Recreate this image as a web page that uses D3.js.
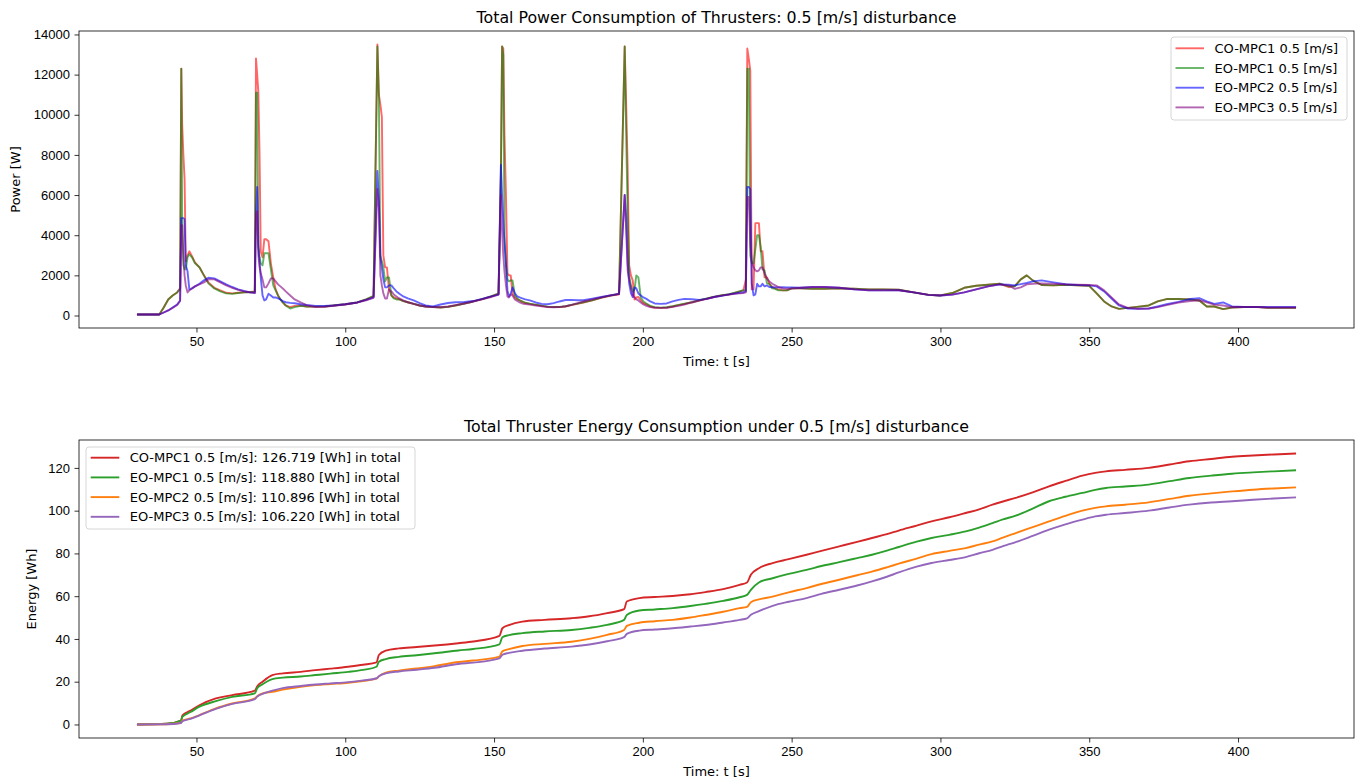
<!DOCTYPE html>
<html>
<head>
<meta charset="utf-8">
<script src="https://cdn.jsdelivr.net/npm/d3@7"></script>
<style>
  body { margin: 0; background: #fff; }
  svg { font-family: "DejaVu Sans", sans-serif; }
  .axis text { font-size: 13px; fill: #000; }
  .axis line { stroke: #000; stroke-width: 0.8; }
  .frame { fill: none; stroke: #000; stroke-width: 0.8; }
</style>
</head>
<body>
<svg width="1362" height="780"></svg>
<script>
// ---- data ----
var powerTime = [30, 37.5, 39, 40.5, 42, 43.5, 44.5,
  44.9, 45.2, 45.6, 46, 46.4, 47, 47.6, 48.5, 49.5, 51, 52.5, 54, 56, 58, 60, 62, 64, 66, 68, 69.6,
  70, 70.4, 70.8, 71.2, 71.6, 72.2, 72.8, 73.4, 74.2, 75, 75.8, 76.6, 77.4, 78.2, 79, 80, 81.5, 83, 85, 87, 90, 93, 96, 100, 104, 107, 109.5,
  110.8, 111.3, 111.8, 112.3, 112.8, 113.4, 114, 114.7, 115.5, 116.3, 117.2, 118.2, 119.5, 121, 123, 125, 127, 129.5, 132, 134.5, 137, 140, 143, 146, 149, 151.5,
  152.3, 152.7, 153.1, 153.5, 154, 154.5, 155, 155.6, 156.2, 157, 157.8, 158.6, 159.5, 160.5, 162, 164, 166, 168, 170, 172, 174, 176, 178, 180, 183, 186, 189, 192,
  193.9, 194.4, 194.9, 195.4, 196, 196.6, 197.2, 197.8, 198.5, 199.3, 200.2, 201.2, 202.5, 204, 206, 208, 210, 212, 214, 216.5, 219, 221.5, 224, 226.5, 229, 231.5, 233.8,
  234.6, 235.1, 235.6, 236.1, 236.6, 237.2, 237.8, 238.4, 239, 239.6, 240.2, 240.9, 241.7, 242.5, 243.5, 244.5, 245.5, 247, 248.5, 250,
  253, 257, 261, 266, 271, 276, 281, 286, 291, 296, 300, 304, 308, 312, 316, 320, 323, 325, 327, 329,
  331, 334, 338, 342, 346, 350, 352.5, 355, 357.5, 360, 363, 366, 370, 373, 376, 380, 384, 387, 389.5, 392,
  395, 398, 402, 406, 410, 415, 419.5];

var powerCO1 = [50, 50, 400, 800, 1000, 1150, 1350,
  12300, 9500, 8000, 6800, 2700, 3000, 3200, 2950, 2650, 2400, 2000, 1650, 1380, 1250, 1130, 1100, 1130, 1150, 1170, 1200,
  12800, 12000, 11100, 8000, 3200, 2900, 3800, 3800, 3700, 2600, 1900, 1300, 1000, 800, 650, 500, 420, 480, 500, 450, 440, 450, 500, 560, 650, 800, 950,
  13500, 11000, 10500, 9900, 3000, 2400, 2400, 1300, 1000, 900, 850, 800, 720, 660, 580, 500, 450, 420, 400, 430, 500, 600, 700, 820, 950, 1080,
  7000, 13400, 13300, 9000, 6000, 2100, 2000, 2000, 1100, 900, 800, 750, 680, 620, 580, 530, 480, 430, 415, 420, 450, 520, 580, 650, 750, 880, 980, 1060,
  13400, 10500, 7300, 2500, 2000, 1750, 800, 900, 920, 750, 620, 550, 450, 400, 380, 400, 450, 520, 580, 660, 750, 840, 930, 1000, 1050, 1150, 1250,
  1800, 13300, 12800, 12200, 1300, 1300, 4600, 4600, 4600, 3200, 3200, 1900, 1900, 1580, 1420, 1350, 1300, 1250, 1260, 1350,
  1350, 1330, 1330, 1350, 1330, 1300, 1300, 1280, 1150, 1030, 1000, 1120, 1380, 1480, 1530, 1580, 1420, 1480, 1800, 2000,
  1750, 1520, 1500, 1530, 1500, 1480, 1100, 700, 450, 330, 380, 430, 500, 700, 820, 820, 800, 750, 450, 450,
  320, 400, 420, 430, 380, 380, 380];

var powerEO1 = [50, 50, 400, 800, 1000, 1150, 1330,
  12300, 4800, 2500, 2300, 2300, 2900, 3050, 2900, 2600, 2400, 2000, 1600, 1350, 1200, 1100, 1080, 1120, 1150, 1160, 1180,
  11100, 11100, 3500, 2900, 2600, 2500, 3100, 3100, 3100, 2300, 1500, 1250, 1000, 800, 650, 500, 350, 420, 480, 450, 440, 450, 500, 560, 650, 800, 980,
  13400, 10800, 3000, 2700, 2400, 1700, 1900, 1900, 1000, 850, 800, 800, 720, 660, 580, 500, 450, 420, 400, 430, 500, 600, 700, 820, 950, 1100,
  7000, 13400, 13000, 4000, 2500, 1800, 1700, 1750, 1750, 1000, 850, 750, 700, 640, 590, 540, 490, 440, 420, 430, 460, 530, 590, 660, 760, 890, 990, 1080,
  13400, 9000, 5000, 2000, 1500, 1200, 1300, 2000, 1900, 900, 700, 600, 480, 420, 390, 410, 460, 530, 590, 670, 760, 850, 940, 1010, 1060, 1160, 1260,
  1250, 12300, 12300, 3000, 2600, 2600, 3300, 4000, 4000, 3400, 2300, 2250, 1600, 1580, 1350, 1330, 1250, 1250, 1250, 1350,
  1350, 1330, 1330, 1350, 1330, 1300, 1300, 1280, 1150, 1030, 1000, 1120, 1380, 1480, 1530, 1580, 1450, 1450, 1800, 2000,
  1750, 1520, 1500, 1530, 1500, 1480, 1100, 700, 450, 330, 380, 430, 500, 700, 820, 820, 800, 750, 450, 450,
  320, 400, 420, 430, 380, 380, 380];

var powerEO2 = [50, 50, 150, 250, 400, 550, 750,
  4850, 4850, 4850, 4800, 2500, 2200, 1300, 1350, 1450, 1580, 1750, 1880, 1850, 1700, 1550, 1420, 1300, 1220, 1150, 1130,
  5000, 6400, 3400, 2700, 1900, 1000, 750, 800, 1080, 1000, 900, 900, 850, 800, 720, 660, 630, 610, 560, 520, 480, 470, 500, 560, 650, 780, 900,
  7200, 5700, 2900, 2400, 1800, 1400, 1400, 1500, 1500, 1350, 1200, 1080, 950, 850, 750, 620, 500, 450, 550, 620, 660, 670, 720, 830, 950, 1030,
  7500, 6000, 4700, 3600, 2600, 1250, 950, 1080, 1400, 1100, 950, 900, 850, 800, 750, 650, 580, 560, 620, 700, 770, 780, 760, 760, 840, 920, 1000, 1080,
  6000, 4900, 2600, 1600, 1100, 920, 1400, 1350, 1100, 1000, 900, 830, 700, 600, 580, 600, 700, 780, 830, 810, 780, 830, 920, 980, 1050, 1110, 1160,
  1200, 6400, 6400, 6300, 1580, 1000, 1050, 1580, 1450, 1450, 1580, 1450, 1500, 1420, 1410, 1400, 1400, 1410, 1400, 1400,
  1380, 1420, 1420, 1380, 1300, 1250, 1250, 1260, 1150, 1030, 1000, 1040, 1150, 1300, 1450, 1550, 1530, 1500, 1560, 1620,
  1700, 1750, 1650, 1560, 1520, 1500, 1450, 1200, 850, 500, 350, 330, 350, 450, 560, 680, 820, 860, 700, 580,
  650, 450, 420, 420, 420, 420, 420];

var powerEO3 = [50, 50, 150, 250, 380, 520, 720,
  4500, 4500, 3000, 2000, 1500, 1150, 1250, 1350, 1450, 1550, 1650, 1800, 1800, 1650, 1500, 1380, 1280, 1200, 1150, 1120,
  5000, 5200, 3000, 2400, 2100, 1800, 1400, 1400, 1600, 1850, 1850, 1700, 1550, 1450, 1350, 1200, 1000, 800, 650, 520, 420, 430, 480, 550, 640, 760, 880,
  6300, 5400, 2000, 1500, 1100, 850, 850, 1300, 1200, 1050, 950, 850, 750, 660, 580, 500, 450, 415, 420, 450, 520, 600, 700, 800, 920, 1050,
  6000, 4200, 3000, 2200, 1500, 950, 900, 1050, 1000, 800, 720, 650, 600, 570, 540, 500, 460, 420, 410, 420, 460, 530, 620, 700, 800, 900, 1000, 1070,
  6000, 4200, 2250, 1800, 1400, 1000, 900, 800, 750, 650, 550, 480, 420, 380, 380, 380, 430, 480, 550, 650, 740, 830, 920, 990, 1040, 1090, 1115,
  1150, 5900, 5900, 3500, 2700, 2400, 2250, 2200, 2250, 2400, 2400, 2100, 1850, 1700, 1580, 1500, 1420, 1350, 1330, 1340,
  1380, 1420, 1420, 1380, 1300, 1250, 1250, 1260, 1150, 1030, 1000, 1040, 1150, 1300, 1450, 1550, 1500, 1330, 1400, 1550,
  1580, 1600, 1580, 1550, 1540, 1520, 1500, 1250, 900, 550, 380, 340, 350, 420, 520, 650, 720, 760, 650, 540,
  500, 420, 420, 420, 400, 400, 400];

var energyTime = [30, 40, 44.8, 45.3, 48, 51, 56.5, 62, 69.6, 70.4,
  72.2, 75.5, 79, 85, 90, 95, 101, 106, 110.5, 111.3,
  113.6, 118, 124, 130, 138, 143, 151.8, 152.8, 155, 159.5,
  167, 176, 182, 188, 193.7, 194.6, 198.8, 204, 210, 216,
  221, 227, 232.5, 235, 236.3, 239, 243.6, 249, 255, 260,
  266, 272, 277, 282, 286, 292, 297, 303, 308.5, 313,
  317.5, 321, 325.3, 331, 336.5, 342, 347.7, 352, 355.6, 362,
  370, 377, 383.6, 391, 398, 405, 412, 419.5];

var energyCO1 = [0, 0.3, 1.8, 4.2, 6.5, 9, 12.2, 13.7, 15.8, 17.8,
  20, 23.1, 23.9, 24.6, 25.4, 26.1, 27, 27.9, 29, 32.5,
  34.5, 35.6, 36.2, 36.9, 38, 38.8, 41.4, 45, 46.5, 48.1,
  48.9, 49.7, 50.6, 52.1, 53.9, 57.5, 59.1, 59.6, 60.1, 60.9,
  61.9, 63.3, 65.3, 66.4, 70, 73.1, 75.5, 77.3, 79.4, 81.2,
  83.3, 85.4, 87.2, 89, 90.7, 93, 95, 96.9, 98.9, 100.6,
  102.8, 104.3, 106, 108.6, 111.4, 113.9, 116.4, 117.7, 118.4, 119.1,
  120, 121.6, 123.1, 124.2, 125.2, 125.8, 126.3, 126.719];

var energyEO1 = [0, 0.3, 1.8, 3.6, 5.8, 8.3, 10.9, 12.9, 14.5, 16.9,
  18.8, 21.2, 21.9, 22.4, 23.1, 23.8, 24.6, 25.5, 27, 29.3,
  30.6, 31.6, 32.4, 33.3, 34.6, 35.3, 37.5, 40.8, 41.8, 42.7,
  43.5, 44.2, 45.2, 46.6, 48.9, 51.2, 53.3, 53.8, 54.4, 55.4,
  56.4, 57.8, 59.5, 60.6, 63, 66.4, 68.4, 70.4, 72.3, 74.1,
  75.9, 77.8, 79.4, 81.3, 83, 85.5, 87.2, 88.7, 90.3, 92.1,
  94.2, 95.9, 97.7, 101, 104.4, 106.5, 108.3, 109.7, 110.6, 111.3,
  112.2, 113.8, 115.3, 116.4, 117.3, 117.9, 118.4, 118.88];

var energyEO2 = [0, 0.1, 0.8, 1.8, 2.8, 4.4, 7.5, 9.8, 12.2, 13.2,
  14.5, 15.3, 16.3, 17.6, 18.4, 18.9, 19.5, 20.3, 21.4, 22.5,
  24.2, 25.2, 26.2, 27.3, 29.2, 29.9, 31.7, 34.2, 35.2, 36.7,
  37.7, 38.7, 40, 41.9, 44.2, 46.1, 47.6, 48.3, 48.9, 50,
  51.2, 52.7, 54.4, 55, 57.2, 58.5, 59.8, 61.8, 63.8, 65.7,
  67.7, 69.8, 71.5, 73.5, 75.2, 77.6, 79.7, 81.2, 82.5, 84.1,
  85.6, 87.4, 89.5, 92.3, 95, 97.6, 100, 101.3, 102, 102.8,
  103.9, 105.5, 107, 108.1, 109, 109.8, 110.4, 110.896];

var energyEO3 = [0, 0.1, 0.7, 1.5, 2.6, 4.2, 7.3, 9.6, 11.8, 13,
  14.3, 15.8, 17, 18, 18.7, 19.2, 19.8, 20.6, 21.6, 22.6,
  23.9, 24.8, 25.6, 26.5, 28.3, 28.9, 30.9, 32.6, 33.5, 34.5,
  35.5, 36.4, 37.4, 38.9, 40.8, 42.4, 43.9, 44.4, 45, 45.8,
  46.5, 47.7, 48.9, 49.6, 51.3, 53, 55.5, 57.4, 59.1, 61.1,
  63, 65, 66.9, 69.1, 71.1, 73.8, 75.5, 76.9, 78.3, 80.1,
  81.7, 83.4, 85.3, 88.2, 91.1, 93.6, 95.8, 97.3, 98.1, 98.9,
  100, 101.5, 102.8, 103.8, 104.4, 105.1, 105.7, 106.22];

var seriesNames = ["CO-MPC1 0.5 [m/s]", "EO-MPC1 0.5 [m/s]", "EO-MPC2 0.5 [m/s]", "EO-MPC3 0.5 [m/s]"];
var powerColors = ["red", "green", "blue", "purple"];
var energyColors = ["#d62728", "#2ca02c", "#ff7f0e", "#9467bd"];

var timeTicks = [50, 100, 150, 200, 250, 300, 350, 400];
var powerTicks = [0, 2000, 4000, 6000, 8000, 10000, 12000, 14000];
var energyTicks = [0, 20, 40, 60, 80, 100, 120];

// ---- layout ----
var svg = d3.select("svg"),
    left = 79,
    width = 1354 - left,
    topPanel = {y: 31, height: 297},
    botPanel = {y: 440, height: 298};

var powerSeries = [powerCO1, powerEO1, powerEO2, powerEO3].map(function(vals, i) {
  return {name: seriesNames[i], color: powerColors[i],
          values: vals.map(function(v, j) { return {t: powerTime[j], v: v}; })};
});
var energySeries = [energyCO1, energyEO1, energyEO2, energyEO3].map(function(vals, i) {
  return {name: seriesNames[i], color: energyColors[i], total: vals[vals.length - 1],
          values: vals.map(function(v, j) { return {t: energyTime[j], v: v}; })};
});

// matplotlib-style 5% margins
function padded(ext) {
  var m = (ext[1] - ext[0]) * 0.05;
  return [ext[0] - m, ext[1] + m];
}

var x = d3.scaleLinear().domain(padded(d3.extent(powerTime))).range([0, width]);
var yPow = d3.scaleLinear()
    .domain(padded([d3.min(powerSeries, function(s) { return d3.min(s.values, function(d) { return d.v; }); }),
                    d3.max(powerSeries, function(s) { return d3.max(s.values, function(d) { return d.v; }); })]))
    .range([topPanel.height, 0]);
var yEn = d3.scaleLinear()
    .domain(padded([0, d3.max(energySeries, function(s) { return s.total; })]))
    .range([botPanel.height, 0]);

function drawPanel(panel, y, yTicks, id) {
  var g = svg.append("g").attr("transform", "translate(" + left + "," + panel.y + ")");

  g.append("clipPath").attr("id", id)
    .append("rect").attr("width", width).attr("height", panel.height);

  g.append("g")
      .attr("class", "axis")
      .attr("transform", "translate(0," + panel.height + ")")
      .call(d3.axisBottom(x).tickValues(timeTicks).tickFormat(d3.format("d")).tickSize(4.5).tickPadding(4))
      .call(function(a) { a.select(".domain").remove(); });

  g.append("g")
      .attr("class", "axis")
      .call(d3.axisLeft(y).tickValues(yTicks).tickFormat(d3.format("d")).tickSize(4.5).tickPadding(4.5))
      .call(function(a) { a.select(".domain").remove(); });

  return g;
}

// ---- top: power ----
var gTop = drawPanel(topPanel, yPow, powerTicks, "clipTop");

var powerLine = d3.line()
    .x(function(d) { return x(d.t); })
    .y(function(d) { return yPow(d.v); });

gTop.append("g").attr("clip-path", "url(#clipTop)")
  .selectAll("path")
  .data(powerSeries)
  .enter().append("path")
    .attr("d", function(d) { return powerLine(d.values); })
    .attr("fill", "none")
    .attr("stroke", function(d) { return d.color; })
    .attr("stroke-width", 1.9)
    .attr("stroke-opacity", 0.6)
    .attr("stroke-linejoin", "round");

gTop.append("rect").attr("class", "frame").attr("width", width).attr("height", topPanel.height);

gTop.append("text")
    .attr("x", width / 2).attr("y", -8.5)
    .attr("text-anchor", "middle")
    .style("font-size", "15.8px")
    .text("Total Power Consumption of Thrusters: 0.5 [m/s] disturbance");

gTop.append("text")
    .attr("x", width / 2).attr("y", topPanel.height + 38)
    .attr("text-anchor", "middle")
    .style("font-size", "13px")
    .text("Time: t [s]");

svg.append("text")
    .attr("transform", "translate(19.5," + (topPanel.y + topPanel.height / 2) + ") rotate(-90)")
    .attr("text-anchor", "middle")
    .style("font-size", "13px")
    .text("Power [W]");

// legend (upper right)
var legTop = svg.append("g").attr("transform", "translate(1171,37)");
legTop.append("rect")
    .attr("width", 176).attr("height", 83).attr("rx", 3)
    .attr("fill", "#fff").attr("fill-opacity", 0.8)
    .attr("stroke", "#d6d6d6");
var itemTop = legTop.selectAll(".item")
  .data(powerSeries)
  .enter().append("g")
    .attr("class", "item")
    .attr("transform", function(d, i) { return "translate(0," + (11.3 + i * 19.7) + ")"; });
itemTop.append("line")
    .attr("x1", 4.5).attr("x2", 33)
    .attr("stroke", function(d) { return d.color; })
    .attr("stroke-width", 1.9).attr("stroke-opacity", 0.6);
itemTop.append("text")
    .attr("x", 43.5).attr("dy", "0.36em")
    .style("font-size", "13px")
    .text(function(d) { return d.name; });

// ---- bottom: energy ----
var gBot = drawPanel(botPanel, yEn, energyTicks, "clipBot");

var energyLine = d3.line()
    .curve(d3.curveMonotoneX)
    .x(function(d) { return x(d.t); })
    .y(function(d) { return yEn(d.v); });

gBot.append("g").attr("clip-path", "url(#clipBot)")
  .selectAll("path")
  .data(energySeries)
  .enter().append("path")
    .attr("d", function(d) { return energyLine(d.values); })
    .attr("fill", "none")
    .attr("stroke", function(d) { return d.color; })
    .attr("stroke-width", 1.9)
    .attr("stroke-linejoin", "round");

gBot.append("rect").attr("class", "frame").attr("width", width).attr("height", botPanel.height);

gBot.append("text")
    .attr("x", width / 2).attr("y", -8)
    .attr("text-anchor", "middle")
    .style("font-size", "15.8px")
    .text("Total Thruster Energy Consumption under 0.5 [m/s] disturbance");

gBot.append("text")
    .attr("x", width / 2).attr("y", botPanel.height + 38)
    .attr("text-anchor", "middle")
    .style("font-size", "13px")
    .text("Time: t [s]");

svg.append("text")
    .attr("transform", "translate(35.5," + (botPanel.y + botPanel.height / 2) + ") rotate(-90)")
    .attr("text-anchor", "middle")
    .style("font-size", "13px")
    .text("Energy [Wh]");

// legend (upper left)
var legBot = svg.append("g").attr("transform", "translate(86,447)");
legBot.append("rect")
    .attr("width", 329).attr("height", 82).attr("rx", 3)
    .attr("fill", "#fff").attr("fill-opacity", 0.8)
    .attr("stroke", "#d6d6d6");
var itemBot = legBot.selectAll(".item")
  .data(energySeries)
  .enter().append("g")
    .attr("class", "item")
    .attr("transform", function(d, i) { return "translate(0," + (10.7 + i * 19.7) + ")"; });
itemBot.append("line")
    .attr("x1", 4.7).attr("x2", 33.3)
    .attr("stroke", function(d) { return d.color; })
    .attr("stroke-width", 1.9);
itemBot.append("text")
    .attr("x", 43.7).attr("dy", "0.36em")
    .style("font-size", "13px")
    .text(function(d) { return d.name + ": " + d.total.toFixed(3) + " [Wh] in total"; });
</script>
</body>
</html>
